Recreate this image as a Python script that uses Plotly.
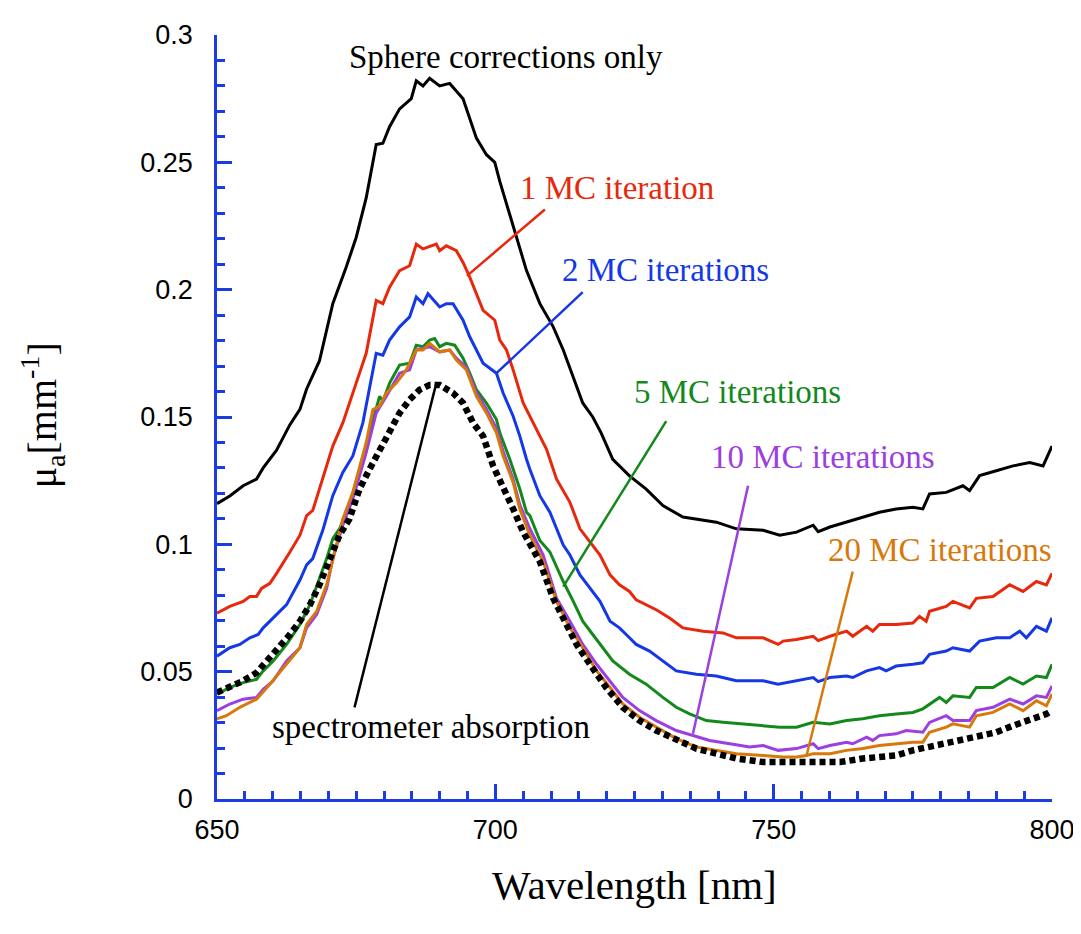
import plotly.graph_objects as go

# ---------------- data ----------------
wl_sphere = [650, 652.3, 654.7, 657.1, 658.3, 660.7, 663.1, 664.9, 666.1, 668.4, 670.8, 673.2, 675.0, 676.8,
             678.6, 679.8, 681.0, 682.8, 684.9, 685.8, 687.0, 688.2, 690.0, 691.8, 694.2, 696.6, 698.4, 699.9,
             700.8, 702.6, 704.4, 705.6, 708.0, 710.4, 712.2, 713.9, 715.7, 717.5, 719.0, 721.1, 724.1, 727.1,
             730.1, 733.7, 737.3, 739.7, 743.3, 748.1, 751.1, 754.1, 757.1, 758.0, 760.1, 763.1, 766.0, 769.0,
             772.0, 775.0, 776.8, 778.0, 781.0, 784.0, 785.2, 787.0, 790.0, 793.0, 796.0, 798.4, 800]
mu_sphere = [0.116, 0.119, 0.123, 0.1256, 0.130, 0.137, 0.147, 0.153, 0.161, 0.172, 0.1945, 0.2088, 0.2205, 0.236,
             0.257, 0.2575, 0.264, 0.271, 0.275, 0.282, 0.280, 0.283, 0.280, 0.281, 0.275, 0.2595, 0.253, 0.250,
             0.2425, 0.2296, 0.2166, 0.2075, 0.1945, 0.1854, 0.1763, 0.166, 0.1555, 0.150, 0.1438, 0.1334, 0.1269,
             0.1217, 0.1152, 0.1107, 0.1094, 0.1087, 0.1061, 0.1055, 0.1036, 0.1048, 0.1075, 0.105, 0.1068, 0.1087,
             0.1107, 0.1126, 0.1139, 0.1146, 0.1139, 0.1198, 0.1204, 0.123, 0.1211, 0.127, 0.1289, 0.1308, 0.1321,
             0.1308, 0.1386]

wl_mc1 = [650, 652.3, 654.7, 655.9, 657.1, 658.0, 659.5, 660.7, 663.1, 664.9, 666.1, 667.2, 670.8, 672.6, 675.0,
          676.8, 678.6, 679.8, 681.0, 682.8, 684.6, 685.8, 687.0, 689.4, 690.0, 691.2, 693.0, 694.2, 695.4, 696.6,
          697.8, 699.9, 700.8, 702.0, 703.2, 705.0, 706.2, 707.4, 709.2, 711.0, 713.4, 715.2, 717.0, 718.8, 720.6,
          722.3, 724.1, 725.3, 728.9, 731.3, 733.7, 737.3, 740.9, 743.3, 748.1, 750.8, 751.7, 754.1, 757.1, 758.0,
          760.1, 763.1, 764.2, 766.7, 767.8, 769.0, 772.0, 775.0, 776.2, 777.4, 778.0, 781.0, 782.2, 785.2, 786.4,
          789.4, 792.4, 794.8, 797.2, 799.0, 800]
mu_mc1 = [0.073, 0.0756, 0.0776, 0.0795, 0.0795, 0.0827, 0.0847, 0.0886, 0.097, 0.1036, 0.1113, 0.1133, 0.1386,
          0.1477, 0.1633, 0.175, 0.1958, 0.1945, 0.201, 0.2075, 0.2094, 0.2179, 0.216, 0.2179, 0.2153, 0.2172,
          0.2153, 0.2107, 0.2049, 0.1984, 0.1919, 0.188, 0.1802, 0.1763, 0.1685, 0.1555, 0.1503, 0.1451, 0.1373,
          0.1256, 0.1165, 0.1061, 0.101, 0.0958, 0.088, 0.0841, 0.0815, 0.0782, 0.0743, 0.0711, 0.0672, 0.0659,
          0.0652, 0.0633, 0.0633, 0.0607, 0.062, 0.0626, 0.0639, 0.0622, 0.0639, 0.0659, 0.0639, 0.0678, 0.0659,
          0.0685, 0.0685, 0.0691, 0.0717, 0.0698, 0.0737, 0.0756, 0.0776, 0.075, 0.0788, 0.0795, 0.0841, 0.0815,
          0.0854, 0.0841, 0.0886]

wl_mc2 = [650, 652.3, 654.1, 655.9, 657.4, 658.3, 660.1, 662.5, 664.9, 666.1, 667.2, 669.0, 670.8, 672.6, 674.4,
          676.2, 678.6, 679.8, 681.0, 682.8, 684.6, 685.8, 687.0, 687.9, 690.0, 691.2, 692.4, 694.2, 695.4, 697.8,
          700.2, 701.4, 703.2, 704.4, 705.6, 706.2, 708.0, 709.8, 712.2, 713.4, 715.2, 717.0, 718.8, 720.6, 722.3,
          724.1, 725.3, 727.7, 730.1, 732.5, 736.1, 739.7, 743.3, 748.1, 750.8, 754.1, 757.1, 758.0, 760.1, 763.1,
          764.2, 766.7, 769.0, 770.2, 772.0, 775.0, 776.8, 778.0, 781.0, 782.2, 785.2, 787.0, 790.0, 792.4, 794.2,
          795.4, 797.2, 799.0, 800]
mu_mc2 = [0.0561, 0.0594, 0.0607, 0.0633, 0.0646, 0.0672, 0.0711, 0.0763, 0.086, 0.0919, 0.0944, 0.1055, 0.1191,
          0.1282, 0.1347, 0.1477, 0.175, 0.1743, 0.1802, 0.1854, 0.1893, 0.1971, 0.1945, 0.1984, 0.1932, 0.1945,
          0.1945, 0.188, 0.1815, 0.1711, 0.1672, 0.1594, 0.1503, 0.1425, 0.1334, 0.1295, 0.1191, 0.1126, 0.0997,
          0.0958, 0.088, 0.0827, 0.0776, 0.0698, 0.0672, 0.0633, 0.0607, 0.0581, 0.0542, 0.0503, 0.049, 0.0483,
          0.0464, 0.0464, 0.0451, 0.0464, 0.0477, 0.0461, 0.0477, 0.0483, 0.0477, 0.0503, 0.0516, 0.0503, 0.0522,
          0.0529, 0.0535, 0.0568, 0.0581, 0.0594, 0.0581, 0.062, 0.0633, 0.0633, 0.0659, 0.0633, 0.0678, 0.0659,
          0.0711]

wl_mc5 = [650, 652.3, 654.7, 657.1, 658.3, 660.1, 662.5, 664.9, 666.7, 668.4, 669.7, 670.8, 672.0, 673.8, 675.6,
          677.4, 679.2, 679.8, 681.0, 682.8, 684.6, 685.8, 687.0, 688.2, 689.1, 690.0, 691.2, 692.7, 694.2, 695.4,
          696.6, 698.4, 700.2, 700.8, 702.6, 704.4, 705.6, 706.2, 708.0, 709.8, 712.2, 714.0, 715.7, 717.5, 719.3,
          721.1, 724.1, 727.1, 730.1, 732.5, 734.9, 737.9, 740.9, 744.5, 748.1, 751.1, 754.1, 757.1, 760.1, 763.1,
          766.0, 769.0, 772.0, 775.0, 776.8, 778.0, 779.8, 781.0, 782.2, 785.2, 786.4, 789.4, 792.4, 794.8, 797.2,
          799.0, 800]
mu_mc5 = [0.0412, 0.0438, 0.0457, 0.047, 0.0503, 0.0542, 0.0607, 0.0685, 0.0763, 0.0866, 0.0944, 0.1022, 0.1061,
          0.1152, 0.1295, 0.1438, 0.1581, 0.1562, 0.1633, 0.1704, 0.1711, 0.1782, 0.1776, 0.1802, 0.1808, 0.1776,
          0.1789, 0.1782, 0.1731, 0.1672, 0.1607, 0.1555, 0.149, 0.1438, 0.1334, 0.1217, 0.1126, 0.1113, 0.1015,
          0.097, 0.0854, 0.0776, 0.0698, 0.0646, 0.0594, 0.0542, 0.049, 0.0451, 0.0399, 0.036, 0.0334, 0.0308,
          0.0301, 0.0295, 0.0288, 0.0282, 0.0282, 0.0301, 0.0295, 0.0308, 0.0315, 0.0327, 0.0334, 0.034, 0.0354,
          0.0373, 0.0399, 0.0379, 0.0405, 0.0399, 0.0438, 0.0438, 0.0477, 0.0451, 0.0483, 0.0477, 0.0529]

wl_mc10 = [650, 652.3, 654.7, 657.1, 658.3, 660.1, 662.5, 664.9, 666.1, 667.9, 669.7, 670.8, 672.6, 674.4, 676.8,
           678.6, 680.4, 682.8, 684.6, 685.8, 688.2, 690.0, 691.8, 693.0, 694.8, 696.6, 698.4, 700.2, 701.4, 703.2,
           704.4, 706.2, 708.6, 711.0, 713.4, 715.7, 718.2, 720.6, 722.9, 725.9, 728.9, 732.5, 735.5, 738.5, 742.1,
           745.7, 748.1, 750.8, 754.1, 757.1, 758.0, 760.1, 763.1, 764.2, 766.7, 767.8, 769.0, 772.0, 773.8, 776.8,
           778.0, 781.0, 782.2, 785.2, 786.4, 789.4, 792.4, 794.8, 797.2, 799.0, 800]
mu_mc10 = [0.0347, 0.0373, 0.0392, 0.0399, 0.0431, 0.0464, 0.0542, 0.0594, 0.0672, 0.0724, 0.0827, 0.0944, 0.1075,
           0.1178, 0.136, 0.1516, 0.1581, 0.1672, 0.1685, 0.1763, 0.1776, 0.1756, 0.1763, 0.1731, 0.1695, 0.1595,
           0.153, 0.1455, 0.1365, 0.1255, 0.1155, 0.1061, 0.0958, 0.0788, 0.0698, 0.0607, 0.0529, 0.0464, 0.0399,
           0.0347, 0.0308, 0.0269, 0.0249, 0.023, 0.0217, 0.0204, 0.021, 0.0191, 0.0198, 0.0217, 0.0198, 0.021,
           0.0223, 0.0217, 0.0243, 0.023, 0.0249, 0.0256, 0.0269, 0.0262, 0.0301, 0.0327, 0.0308, 0.0308, 0.0347,
           0.036, 0.0392, 0.0373, 0.0405, 0.0399, 0.0444]

wl_mc20 = [650, 651.7, 654.1, 657.1, 659.5, 662.5, 664.9, 666.1, 667.9, 669.7, 670.8, 672.6, 674.4, 676.8, 678.0,
           679.2, 680.4, 682.2, 684.0, 685.8, 687.0, 688.2, 690.0, 691.8, 693.0, 694.8, 696.6, 698.4, 700.2, 701.4,
           703.2, 704.4, 706.2, 708.6, 711.0, 713.4, 715.7, 718.2, 720.6, 722.9, 725.9, 728.9, 732.5, 736.1, 739.7,
           743.3, 748.1, 751.7, 754.1, 755.9, 757.1, 760.1, 763.1, 766.0, 769.0, 772.0, 775.0, 776.8, 778.0, 781.0,
           782.2, 785.2, 786.4, 789.4, 792.4, 794.8, 797.2, 799.0, 800]
mu_mc20 = [0.0315, 0.0327, 0.036, 0.0392, 0.0451, 0.0529, 0.0594, 0.0685, 0.0737, 0.0841, 0.0944, 0.110, 0.1204,
           0.1399, 0.1529, 0.1542, 0.1594, 0.1633, 0.1685, 0.1763, 0.1763, 0.1789, 0.1756, 0.1763, 0.1724, 0.1685,
           0.1581, 0.1516, 0.1438, 0.1347, 0.1243, 0.1139, 0.1036, 0.0932, 0.0776, 0.0672, 0.0594, 0.0503, 0.0438,
           0.0373, 0.0321, 0.0282, 0.0237, 0.0204, 0.0191, 0.0178, 0.0171, 0.0165, 0.0165, 0.0171, 0.0178, 0.0178,
           0.0191, 0.0198, 0.021, 0.0217, 0.0223, 0.0223, 0.0262, 0.0282, 0.0295, 0.0282, 0.0327, 0.034, 0.0373,
           0.0347, 0.0386, 0.0366, 0.0412]

wl_spec = [650, 652.3, 654.7, 657.1, 658.9, 661.3, 663.1, 664.9, 666.7, 668.4, 670.2, 672.0, 673.8, 675.6, 677.4,
           679.2, 681.0, 682.8, 684.6, 686.4, 688.2, 690.0, 692.4, 694.2, 696.0, 697.8, 699.6, 701.4, 703.2, 705.0,
           706.2, 708.0, 710.4, 712.2, 714.6, 717.0, 719.9, 722.9, 725.9, 728.9, 732.5, 736.1, 739.7, 743.3, 748.1,
           754.1, 761.9, 766.0, 769.0, 772.0, 775.0, 778.0, 781.0, 784.0, 787.0, 790.0, 793.0, 796.0, 799.0, 800]
mu_spec = [0.0418, 0.0438, 0.0464, 0.0496, 0.0542, 0.0594, 0.0646, 0.0698, 0.0763, 0.0841, 0.0932, 0.1036, 0.110,
           0.1217, 0.1295, 0.1373, 0.1451, 0.1516, 0.1568, 0.1607, 0.1626, 0.1626, 0.1594, 0.1555, 0.1477, 0.1425,
           0.1308, 0.123, 0.1139, 0.1048, 0.0997, 0.0932, 0.0788, 0.0711, 0.0607, 0.0529, 0.0438, 0.036, 0.0308,
           0.0269, 0.023, 0.0198, 0.0178, 0.0159, 0.0145, 0.0145, 0.0145, 0.0159, 0.0165, 0.0171, 0.0191, 0.0204,
           0.0217, 0.023, 0.0249, 0.0262, 0.0288, 0.0308, 0.0334, 0.0347]

# labels: text, colour, label centre (wavelength, mu), leader line (from curve point to label)
label_text = ["Sphere corrections only", "1 MC iteration", "2 MC iterations", "5 MC iterations",
              "10 MC iterations", "20 MC iterations", "spectrometer absorption"]
label_color = ["#000000", "#e8280c", "#1438e6", "#13891c", "#9b3fe0", "#d8780a", "#000000"]
label_x = [702.0, 721.9, 730.6, 743.5, 758.9, 779.9, 688.5]
label_y = [0.2915, 0.2399, 0.2077, 0.1600, 0.1341, 0.0976, 0.0281]
leader_x0 = [None, 694.9, 700.2, 712.2, 735.5, 755.9, 689.4]
leader_y0 = [None, 0.2054, 0.1672, 0.0834, 0.0256, 0.0171, 0.1633]
leader_x1 = [None, 708.9, 715.7, 730.7, 745.4, 764.2, 674.7]
leader_y1 = [None, 0.2315, 0.1990, 0.1484, 0.1230, 0.0893, 0.0360]

AXIS_BLUE = "#1a3ce2"
SERIF = "Liberation Serif, Times New Roman, serif"
SANS = "Liberation Sans, Arial, Helvetica, sans-serif"

fig = go.Figure()
series = [
    (wl_sphere, mu_sphere, label_color[0]),
    (wl_mc1, mu_mc1, label_color[1]),
    (wl_mc2, mu_mc2, label_color[2]),
    (wl_mc5, mu_mc5, label_color[3]),
    (wl_mc10, mu_mc10, label_color[4]),
    (wl_mc20, mu_mc20, label_color[5]),
]
for xs, ys, c in series:
    fig.add_trace(go.Scatter(x=xs, y=ys, mode="lines", line=dict(color=c, width=3), showlegend=False))
fig.add_trace(go.Scatter(x=wl_spec, y=mu_spec, mode="lines",
                         line=dict(color="#000000", width=6.5, dash="6px,4px"), showlegend=False))

for i in range(len(label_text)):
    fig.add_annotation(x=label_x[i], y=label_y[i], xref="x", yref="y", text=label_text[i],
                       showarrow=False, xanchor="center", yanchor="middle",
                       font=dict(family=SERIF, size=33, color=label_color[i]))
    if leader_x0[i] is not None:
        fig.add_shape(type="line", xref="x", yref="y", x0=leader_x0[i], y0=leader_y0[i],
                      x1=leader_x1[i], y1=leader_y1[i], line=dict(color=label_color[i], width=2.5))

# axis titles
fig.add_annotation(x=0.5, y=-0.112, xref="paper", yref="paper", text="Wavelength [nm]", showarrow=False,
                   xanchor="center", yanchor="middle", font=dict(family=SERIF, size=41, color="black"))
fig.add_annotation(x=-0.2085, y=0.502, xref="paper", yref="paper", text="μ<sub>a</sub>[mm<sup>-1</sup>]",
                   showarrow=False, textangle=-90, xanchor="center", yanchor="middle",
                   font=dict(family=SERIF, size=40, color="black"))

# the page adds an 8px body margin, so the margins are reduced by it
fig.update_layout(
    width=1081, height=934,
    margin=dict(l=209, r=37, t=21, b=143),
    paper_bgcolor="white", plot_bgcolor="white",
    showlegend=False,
)
fig.update_xaxes(range=[650, 800], tickvals=[650, 700, 750, 800], ticktext=["650", "700", "750", "800"],
                 showgrid=False, zeroline=False, showline=True, linecolor=AXIS_BLUE, linewidth=2.5,
                 ticks="inside", ticklen=15, tickwidth=2.5, tickcolor=AXIS_BLUE,
                 tickfont=dict(family=SANS, size=27, color="black"), ticklabelstandoff=5,
                 minor=dict(dtick=5, tick0=650, ticks="inside", ticklen=8, tickwidth=2.5, tickcolor=AXIS_BLUE,
                            showgrid=False))
fig.update_yaxes(range=[0, 0.3], tickvals=[0, 0.05, 0.1, 0.15, 0.2, 0.25, 0.3],
                 ticktext=["0", "0.05", "0.1", "0.15", "0.2", "0.25", "0.3"],
                 showgrid=False, zeroline=False, showline=True, linecolor=AXIS_BLUE, linewidth=2.5,
                 ticks="inside", ticklen=15, tickwidth=2.5, tickcolor=AXIS_BLUE,
                 tickfont=dict(family=SANS, size=27, color="black"), ticklabelstandoff=16,
                 minor=dict(dtick=0.01, tick0=0, ticks="inside", ticklen=8, tickwidth=2.5, tickcolor=AXIS_BLUE,
                            showgrid=False))

fig.write_html("out.html")
